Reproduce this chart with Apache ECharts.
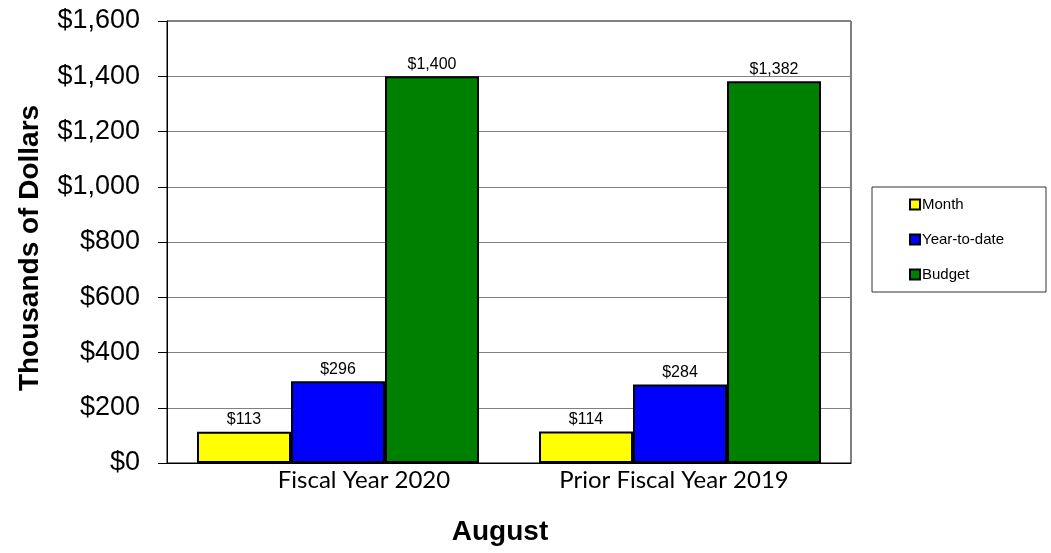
<!DOCTYPE html>
<html>
<head>
<meta charset="utf-8">
<style>
  html, body { margin: 0; padding: 0; background: #ffffff; }
  #chart { width: 1051px; height: 553px; }
</style>
<script src="https://cdn.jsdelivr.net/npm/echarts@6/dist/echarts.min.js"></script>
</head>
<body>
<div id="chart"></div>
<script>
// Periods compared on the category axis
const categories = ['Fiscal Year 2020', 'Prior Fiscal Year 2019'];

// Values in thousands of dollars
const monthValues = [113, 114];
const ytdValues = [296, 284];
const budgetValues = [1400, 1382];

// Value axis range and step
const yMin = 0;
const yMax = 1600;
const yStep = 200;

const fmtMoney = v => '$' + Math.round(v).toLocaleString('en-US');

const chart = echarts.init(document.getElementById('chart'), null, { renderer: 'canvas' });

const barLabel = {
  show: true,
  position: 'top',
  distance: 4,
  color: '#000',
  fontFamily: 'Liberation Sans, Arial, sans-serif',
  fontSize: 16,
  formatter: p => fmtMoney(p.value)
};

function makeSeries(name, color, data) {
  return {
    name: name,
    type: 'bar',
    data: data,
    barWidth: 94,
    barGap: '0%',
    itemStyle: { color: color, borderColor: '#000', borderWidth: 2 },
    label: barLabel,
    emphasis: { disabled: true }
  };
}

chart.setOption({
  animation: false,
  backgroundColor: '#ffffff',
  grid: {
    left: 167, right: 200, top: 21, bottom: 90,
    show: true, borderColor: '#000', borderWidth: 1, backgroundColor: 'transparent'
  },
  legend: {
    orient: 'vertical',
    left: 872, top: 187,
    padding: [10, 42, 10, 37],
    itemGap: 20,
    itemWidth: 10, itemHeight: 10,
    icon: 'rect',
    borderColor: '#333', borderWidth: 1,
    itemStyle: { borderColor: '#000', borderWidth: 2 },
    textStyle: { color: '#000', fontFamily: 'Liberation Sans, Arial, sans-serif', fontSize: 15, padding: [0, 0, 0, -3] },
    selectedMode: false,
    data: ['Month', 'Year-to-date', 'Budget']
  },
  xAxis: {
    type: 'category',
    data: categories,
    name: 'August',
    nameLocation: 'middle',
    nameGap: 55,
    nameTextStyle: {
      color: '#000', fontFamily: 'Liberation Sans, Arial, sans-serif',
      fontSize: 28, fontWeight: 'bold', padding: [0, 18, 0, 0]
    },
    axisLine: { show: true, lineStyle: { color: '#000', width: 1 } },
    axisTick: { show: false },
    splitLine: { show: false },
    axisLabel: {
      color: '#000',
      fontFamily: 'Lato, Open Sans, sans-serif',
      fontSize: 24,
      margin: 5,
      interval: 0,
      formatter: (v, i) => (i === 0 ? '{a|' + v + '}' : '{b|' + v + '}'),
      rich: {
        a: { fontFamily: 'Lato, Open Sans, sans-serif', fontSize: 24, color: '#000', padding: [0, 0, 0, 52] },
        b: { fontFamily: 'Lato, Open Sans, sans-serif', fontSize: 24, color: '#000', padding: [0, 12, 0, 0] }
      }
    }
  },
  yAxis: {
    type: 'value',
    min: yMin, max: yMax, interval: yStep,
    name: 'Thousands of Dollars',
    nameLocation: 'middle',
    nameGap: 123,
    nameTextStyle: {
      color: '#000', fontFamily: 'Liberation Sans, Arial, sans-serif',
      fontSize: 28, fontWeight: 'bold', padding: [0, 12, 0, 0]
    },
    axisLine: { show: true, lineStyle: { color: '#000', width: 1 } },
    axisTick: { show: true, inside: false, length: 9, lineStyle: { color: '#000', width: 1 } },
    splitLine: { show: true, lineStyle: { color: '#808080', width: 1 } },
    axisLabel: {
      color: '#000',
      fontFamily: 'Liberation Sans, Arial, sans-serif',
      fontSize: 27,
      margin: 27,
      formatter: v => fmtMoney(v)
    }
  },
  series: [
    makeSeries('Month', '#FFFF00', monthValues),
    makeSeries('Year-to-date', '#0000FF', ytdValues),
    makeSeries('Budget', '#008000', budgetValues)
  ]
});
</script>
</body>
</html>
